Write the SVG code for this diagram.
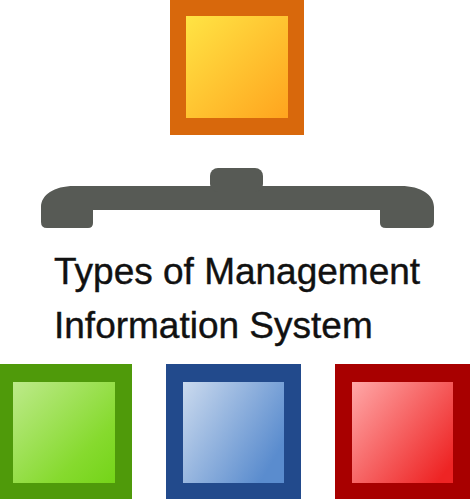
<svg xmlns="http://www.w3.org/2000/svg" width="474" height="502" viewBox="0 0 474 502">
<defs>
<linearGradient id="gO" x1="0" y1="0" x2="1" y2="1"><stop offset="0" stop-color="#ffe444"/><stop offset="1" stop-color="#ffa41e"/></linearGradient>
<linearGradient id="gG" x1="0" y1="0" x2="1" y2="1"><stop offset="0" stop-color="#bdea8a"/><stop offset="0.7" stop-color="#86da2e"/><stop offset="1" stop-color="#74d418"/></linearGradient>
<linearGradient id="gB" x1="0" y1="0" x2="1" y2="0.6"><stop offset="0" stop-color="#cbdaee"/><stop offset="1" stop-color="#5a8cce"/></linearGradient>
<linearGradient id="gR" x1="0" y1="0" x2="1" y2="0.8"><stop offset="0" stop-color="#ffa8a8"/><stop offset="1" stop-color="#ee2424"/></linearGradient>
<style>
.t{font-family:"Liberation Sans",Arial,sans-serif;font-size:37px;fill:#111;stroke:#111;stroke-width:0.4}
</style>
</defs>
<rect width="474" height="502" fill="#ffffff"/>
<g id="top">
<rect x="170" y="0" width="134" height="135" fill="#d8680c"/>
<rect x="186" y="16" width="102" height="102" fill="url(#gO)"/>
</g>
<g id="connectors">
<path d="M74,186 C54,186 41,195 41,207 L41,222 Q41,228 47,228 L88,228 Q93,228 93,223 L93,210 L380,210 L380,223 Q380,228 386,228 L428,228 Q434,228 434,222 L434,207 C434,195 421,186 401,186 Z" fill="#575a55"/>
<rect x="210" y="168" width="53" height="24" rx="8" fill="#575a55"/>
</g>
<g id="title">
<text class="t" x="54" y="284">Types of Management</text>
<text class="t" x="54" y="338">Information System</text>
</g>
<g id="green">
<rect x="0" y="364" width="132" height="135" fill="#4f9a0a"/>
<rect x="13" y="382" width="102" height="101" fill="url(#gG)"/>
</g>
<g id="blue">
<rect x="166" y="364" width="135" height="135" fill="#224a8c"/>
<rect x="183" y="382" width="101" height="101" fill="url(#gB)"/>
</g>
<g id="red">
<rect x="335" y="364" width="135" height="135" fill="#a80000"/>
<rect x="352" y="382" width="101" height="101" fill="url(#gR)"/>
</g>
</svg>
